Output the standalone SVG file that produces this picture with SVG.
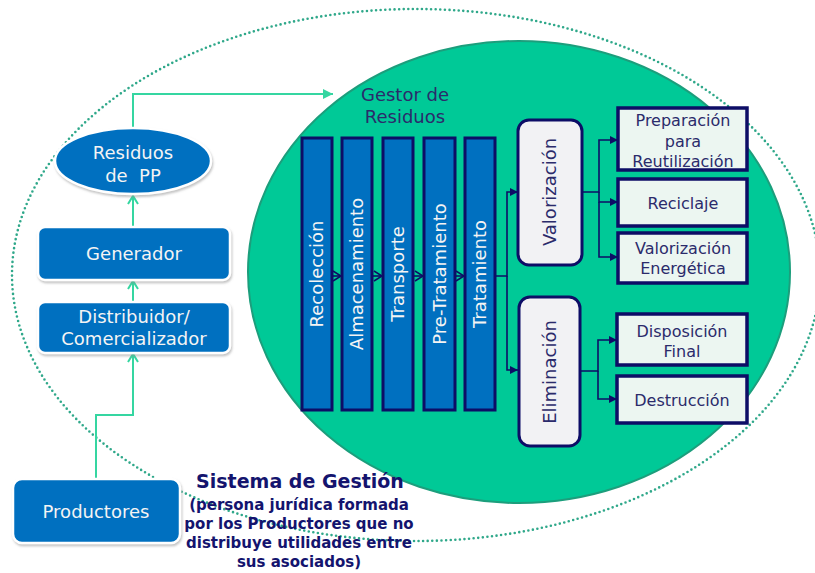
<svg xmlns="http://www.w3.org/2000/svg" width="815" height="573" viewBox="0 0 815 573">
<style>
.blue{fill:#0070C0;stroke:#ffffff;stroke-width:2.5;filter:url(#sh)}
.col{fill:#0070C0;stroke:#0d0d66;stroke-width:3}
.grey{fill:#f2f2f4;stroke:#0d0d66;stroke-width:3}
.mint{fill:#ecf6f1;stroke:#0d0d66;stroke-width:3.5}
.wt{font-family:"DejaVu Sans",sans-serif;font-size:18px;fill:#f4f4f4;text-anchor:middle}
.nt{font-family:"DejaVu Sans",sans-serif;font-size:16px;fill:#2b2b6b;text-anchor:middle}
.vt{font-family:"DejaVu Sans",sans-serif;font-size:18px;fill:#2b2b6b;text-anchor:middle}
.teal{fill:none;stroke:#35d6a1;stroke-width:2}
.navy{fill:none;stroke:#0d0d66;stroke-width:1.6}
.bt{font-family:"DejaVu Sans",sans-serif;font-weight:bold;fill:#14146e;text-anchor:middle}
</style>
<defs>
<filter id="sh" x="-10%" y="-10%" width="120%" height="130%">
<feDropShadow dx="1" dy="2" stdDeviation="1.2" flood-color="#888" flood-opacity="0.5"/>
</filter>
<marker id="tOpen" markerUnits="userSpaceOnUse" markerWidth="14" markerHeight="14" refX="10" refY="6" orient="auto">
<path d="M2,1 L10,6 L2,11" fill="none" stroke="#35d6a1" stroke-width="2"/>
</marker>
<marker id="tFill" markerUnits="userSpaceOnUse" markerWidth="14" markerHeight="14" refX="10" refY="5" orient="auto">
<path d="M0,0 L10,5 L0,10 Z" fill="#35d6a1"/>
</marker>
<marker id="nFill" markerUnits="userSpaceOnUse" markerWidth="12" markerHeight="12" refX="8" refY="4" orient="auto">
<path d="M0,0 L8,4 L0,8 Z" fill="#0d0d66"/>
</marker>
<marker id="nOpen" markerUnits="userSpaceOnUse" markerWidth="14" markerHeight="14" refX="9" refY="6" orient="auto">
<path d="M1,1 L9,6 L1,11" fill="none" stroke="#0d0d66" stroke-width="1.5"/>
</marker>
</defs>
<rect width="815" height="573" fill="#ffffff"/>
<ellipse id="sistema-boundary" cx="416" cy="275" rx="404" ry="266" fill="none" stroke="#2fa88a" stroke-width="2.6" stroke-dasharray="0 4.6" stroke-linecap="round"/>
<ellipse id="gestor-area" cx="519" cy="272" rx="271" ry="231" fill="#00c997" stroke="#1c9e7c" stroke-width="2"/>

<g id="connectors">
<path class="teal" d="M133,127 V94 H333" marker-end="url(#tFill)"/>
<path class="teal" d="M133,227 V196" marker-end="url(#tOpen)"/>
<path class="teal" d="M133,302 V281" marker-end="url(#tOpen)"/>
<path class="teal" d="M96,479 V415 H133 V354" marker-end="url(#tOpen)"/>
<path class="navy" d="M332,276 H341" marker-end="url(#nOpen)"/>
<path class="navy" d="M372,276 H382" marker-end="url(#nOpen)"/>
<path class="navy" d="M408,276 H423" marker-end="url(#nOpen)"/>
<path class="navy" d="M456,276 H464" marker-end="url(#nOpen)"/>
<path class="navy" d="M496,276 H507 V192 H518" marker-end="url(#nFill)"/>
<path class="navy" d="M507,276 V370 H518" marker-end="url(#nFill)"/>
<path class="navy" d="M583,192 H599 V140 H618" marker-end="url(#nFill)"/>
<path class="navy" d="M599,192 V202 H618" marker-end="url(#nFill)"/>
<path class="navy" d="M599,202 V257 H618" marker-end="url(#nFill)"/>
<path class="navy" d="M581,371 H598 V340 H617" marker-end="url(#nFill)"/>
<path class="navy" d="M598,371 V399 H617" marker-end="url(#nFill)"/>
</g>

<g id="residuos-pp">
<ellipse class="blue" cx="133" cy="161" rx="78" ry="33"/>
<text class="wt" x="133" y="159">Residuos</text>
<text class="wt" x="133" y="182" xml:space="preserve">de  PP</text>
</g>
<g id="generador">
<rect class="blue" x="38" y="227" width="192" height="53" rx="7"/>
<text class="wt" x="134" y="260">Generador</text>
</g>
<g id="distribuidor">
<rect class="blue" x="38" y="302" width="192" height="51" rx="7"/>
<text class="wt" x="134" y="323">Distribuidor/</text>
<text class="wt" x="134" y="345">Comercializador</text>
</g>
<g id="productores">
<rect class="blue" x="13" y="479" width="167" height="64" rx="9"/>
<text class="wt" x="96" y="518">Productores</text>
</g>

<g id="sistema-label">
<text class="bt" x="300" y="488" font-size="19">Sistema de Gestión</text>
<text class="bt" x="299" y="510" font-size="15">(persona jurídica formada</text>
<text class="bt" x="299" y="529" font-size="15">por los Productores que no</text>
<text class="bt" x="299" y="548" font-size="15">distribuye utilidades entre</text>
<text class="bt" x="299" y="567" font-size="15">sus asociados)</text>
</g>

<g id="gestor-label">
<text class="vt" x="405" y="101" fill="#1a1a5e">Gestor de</text>
<text class="vt" x="405" y="123" fill="#1a1a5e">Residuos</text>
</g>

<g id="recoleccion">
<rect class="col" x="302" y="138" width="30" height="272"/>
<text class="wt" transform="translate(323,274) rotate(-90)">Recolección</text>
</g>
<g id="almacenamiento">
<rect class="col" x="342" y="138" width="30" height="272"/>
<text class="wt" transform="translate(363,274) rotate(-90)">Almacenamiento</text>
</g>
<g id="transporte">
<rect class="col" x="383" y="138" width="30" height="272"/>
<text class="wt" transform="translate(404,274) rotate(-90)">Transporte</text>
</g>
<g id="pretratamiento">
<rect class="col" x="424" y="138" width="31" height="272"/>
<text class="wt" transform="translate(446,274) rotate(-90)">Pre-Tratamiento</text>
</g>
<g id="tratamiento">
<rect class="col" x="465" y="138" width="30" height="272"/>
<text class="wt" transform="translate(486,274) rotate(-90)">Tratamiento</text>
</g>

<g id="valorizacion">
<rect class="grey" x="518" y="120" width="64" height="145" rx="11"/>
<text class="vt" transform="translate(556,192) rotate(-90)">Valorización</text>
</g>
<g id="eliminacion">
<rect class="grey" x="519" y="297" width="61" height="149" rx="11"/>
<text class="vt" transform="translate(556,372) rotate(-90)">Eliminación</text>
</g>

<g id="preparacion">
<rect class="mint" x="618" y="108" width="129" height="62"/>
<text class="nt" x="683" y="126">Preparación</text>
<text class="nt" x="683" y="147">para</text>
<text class="nt" x="683" y="167">Reutilización</text>
</g>
<g id="reciclaje">
<rect class="mint" x="618" y="179" width="129" height="47"/>
<text class="nt" x="683" y="209">Reciclaje</text>
</g>
<g id="valorizacion-energetica">
<rect class="mint" x="618" y="233" width="129" height="50"/>
<text class="nt" x="683" y="254">Valorización</text>
<text class="nt" x="683" y="274">Energética</text>
</g>
<g id="disposicion-final">
<rect class="mint" x="617" y="314" width="130" height="51"/>
<text class="nt" x="682" y="337">Disposición</text>
<text class="nt" x="682" y="357">Final</text>
</g>
<g id="destruccion">
<rect class="mint" x="617" y="376" width="130" height="47"/>
<text class="nt" x="682" y="406">Destrucción</text>
</g>
</svg>
